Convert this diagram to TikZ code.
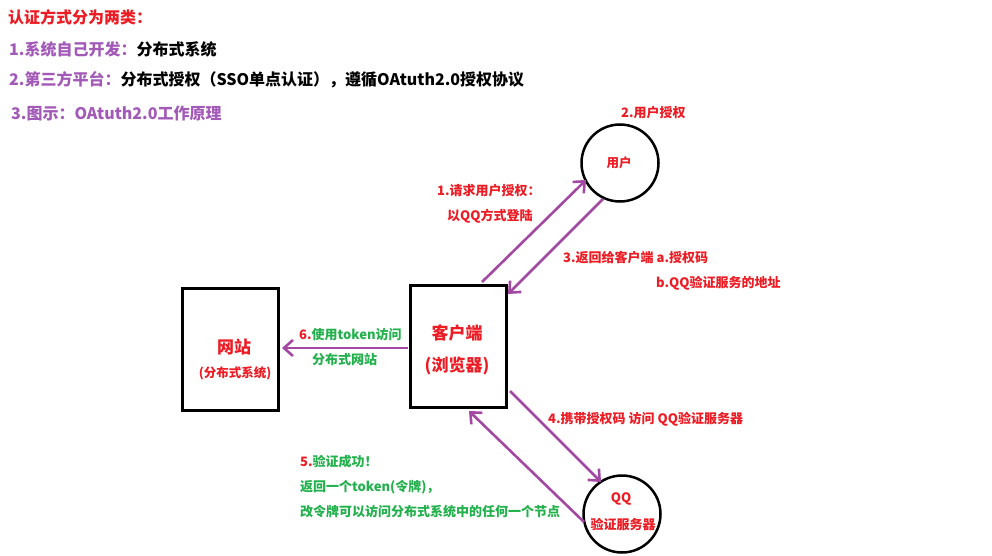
\documentclass[tikz,border=0pt]{standalone}
\usepackage{fontspec}
\setmainfont{Noto Sans CJK SC}
\usetikzlibrary{arrows.meta}
\definecolor{pred}{HTML}{ED1C24}
\definecolor{pgreen}{HTML}{22B14C}
\definecolor{ppurple}{HTML}{A349A4}
\definecolor{tpurple}{HTML}{A259B8}
\tikzset{
  lbl/.style={inner sep=0pt, anchor=west, font=\bfseries\fontsize{13}{13}\selectfont},
  head/.style={inner sep=0pt, anchor=west, font=\bfseries\fontsize{16}{16}\selectfont},
  box/.style={draw=black, line width=3pt, minimum width=96pt, minimum height=122pt, inner sep=0pt},
  ring/.style={draw=black, line width=2.5pt, circle, minimum size=77pt, inner sep=0pt},
  flow/.style={draw=ppurple, line width=2.6pt, -{Straight Barb[length=9pt,width=16pt,line width=2.6pt]}},
}
\begin{document}
\begin{tikzpicture}[x=1pt,y=-1pt]
\useasboundingbox[fill=white] (0,0) rectangle (992,556);
% header
\node[head, text=pred] (h0) at (8,17) {认证方式分为两类：};
\node[head] (h1) at (9,49) {\textcolor{tpurple}{1.系统自己开发：}分布式系统};
\node[head] (h2) at (9,80) {\textcolor{tpurple}{2.第三方平台：}分布式授权（SSO单点认证），遵循OAtuth2.0授权协议};
\node[head, text=tpurple] (h3) at (11,113) {3.图示：OAtuth2.0工作原理};
% shapes
\node[box] (web) at (230.5,349) {};
\node[inner sep=0pt, text=pred, font=\bfseries\fontsize{17}{17}\selectfont] (webt) at (234,347) {网站};
\node[inner sep=0pt, text=pred, font=\bfseries\fontsize{12.5}{12.5}\selectfont] (webs) at (235,373) {(分布式系统)};
\node[box] (cli) at (458,346.5) {};
\node[inner sep=0pt, text=pred, font=\bfseries\fontsize{17}{17}\selectfont] (clit) at (457,333) {客户端};
\node[inner sep=0pt, text=pred, font=\bfseries\fontsize{17}{17}\selectfont] (clis) at (457,366) {(浏览器)};
\node[ring] (user) at (620,163) {};
\node[inner sep=0pt, text=pred, font=\bfseries\fontsize{12.5}{12.5}\selectfont] (usert) at (619,163) {用户};
\node[ring] (qq) at (622,514) {};
\node[inner sep=0pt, text=pred, font=\bfseries\fontsize{13}{13}\selectfont] (qqt) at (621,499) {QQ};
\node[inner sep=0pt, text=pred, font=\bfseries\fontsize{13}{13}\selectfont] (qqs) at (623,524) {验证服务器};
% coordinates for arrow ends
\coordinate (a1s) at (482,282);
\coordinate (a1e) at (586,180);
\coordinate (a3s) at (603,199);
\coordinate (a3e) at (508,294);
\coordinate (a4s) at (510,391);
\coordinate (a4e) at (601,482);
\coordinate (a5s) at (584,522);
\coordinate (a5e) at (469,411);
\coordinate (a6s) at (408,348);
\coordinate (a6e) at (282,348);
\draw[flow] (a1s) -- (a1e);
\draw[flow] (a3s) -- (a3e);
\draw[flow] (a4s) -- (a4e);
\draw[flow] (a5s) -- (a5e);
\draw[flow] (a6s) -- (a6e);
% labels
\node[lbl, text=pred] (l2) at (621,113) {2.用户授权};
\node[lbl, text=pred] (l1a) at (437,191) {1.请求用户授权：};
\node[lbl, text=pred] (l1b) at (447,216) {以QQ方式登陆};
\node[lbl, text=pred] (l3a) at (563,258) {3.返回给客户端 a.授权码};
\node[lbl, text=pred] (l3b) at (656,283) {b.QQ验证服务的地址};
\node[lbl, text=pgreen] (l6a) at (299,335) {\textcolor{pred}{6.}使用token访问};
\node[lbl, text=pgreen] (l6b) at (312,360) {分布式网站};
\node[lbl, text=pred] (l4) at (548,419) {4.携带授权码 访问 QQ验证服务器};
\node[lbl, text=pgreen] (l5a) at (300,462) {\textcolor{pred}{5.}验证成功！};
\node[lbl, text=pgreen] (l5b) at (300,487) {返回一个token(令牌)，};
\node[lbl, text=pgreen] (l5c) at (300,512) {改令牌可以访问分布式系统中的任何一个节点};
\end{tikzpicture}
\end{document}
